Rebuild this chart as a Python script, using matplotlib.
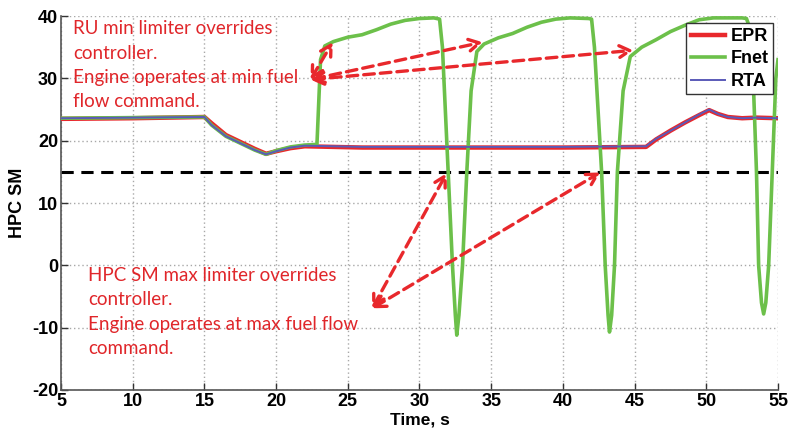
import matplotlib
matplotlib.use('Agg')
import matplotlib.pyplot as plt
import numpy as np

plt.rcParams['axes.unicode_minus'] = False

# baseline trace shared by EPR and RTA (time s, HPC SM)
base_t = [5, 10, 15, 15.5, 16.5, 17.5, 18.5, 19.3, 20, 21, 22, 26, 30, 35, 40, 45.8,
          46.5, 47.5, 48.5, 49.5, 50.2, 50.8, 51.5, 52.5, 53.5, 55]
base_v = [23.6, 23.7, 23.8, 22.5, 20.7, 19.6, 18.5, 17.8, 18.3, 18.9, 19.2, 19.0, 19.0, 19.0, 19.0, 19.1,
          20.3, 21.6, 22.9, 24.2, 25.0, 24.3, 23.8, 23.6, 23.7, 23.6]
epr_v = [23.5, 23.6, 23.8, 22.8, 20.9, 19.8, 18.7, 17.9, 18.3, 18.8, 19.1, 18.9, 18.9, 18.9, 18.9, 19.0,
         20.2, 21.6, 22.9, 24.1, 24.9, 24.3, 23.8, 23.6, 23.7, 23.6]

fnet_t = [5, 10, 15, 15.5, 16.5, 17.5, 18.5, 19.3, 20, 21, 22, 22.85,
          23.1, 23.4, 24, 25, 26, 27, 28, 29, 30, 31, 31.4,
          31.6, 32.0, 32.3, 32.5, 32.6, 32.75, 33.0, 33.3, 33.6, 34.0,
          34.5, 35.5, 36.5, 37.5, 38.5, 39.5, 40.5, 41.8, 42.0,
          42.2, 42.7, 42.95, 43.15, 43.25, 43.4, 43.6, 43.8, 44.2, 44.7,
          45.5, 46.5, 47.5, 48.5, 49.5, 50.5, 52.5, 52.8,
          53.05, 53.3, 53.5, 53.65, 53.85, 54.0, 54.15, 54.35, 54.6, 54.85, 55]
fnet_v = [23.6, 23.7, 23.8, 22.5, 20.7, 19.6, 18.5, 17.8, 18.4, 19.0, 19.3, 19.4,
          33.0, 35.2, 35.9, 36.6, 37.0, 37.8, 38.7, 39.3, 39.6, 39.7, 39.5,
          35.0, 15.0, 0.0, -8.0, -11.2, -8.0, 0.0, 15.0, 28.0, 34.3,
          35.5, 36.5, 37.2, 38.2, 39.0, 39.5, 39.7, 39.6, 39.5,
          35.0, 15.0, 0.0, -8.0, -10.7, -8.0, 0.0, 15.0, 28.0, 33.5,
          35.0, 36.2, 37.5, 38.5, 39.4, 39.7, 39.7, 39.6,
          38.0, 28.0, 15.0, 0.0, -6.0, -7.8, -6.0, 0.0, 15.0, 30.0, 33.0]

limit_sm = 15
x_ticks = [5, 10, 15, 20, 25, 30, 35, 40, 45, 50, 55]
y_ticks = [-20, -10, 0, 10, 20, 30, 40]

text_top = "RU min limiter overrides\ncontroller.\nEngine operates at min fuel\nflow command."
text_bot = "HPC SM max limiter overrides\ncontroller.\nEngine operates at max fuel flow\ncommand."

# arrows: tail point and the points they aim at
top_tail = (22.4, 29.8)
top_heads = [(23.95, 35.8), (34.4, 35.8), (44.9, 34.5)]
bot_tail = (26.7, -6.9)
bot_heads = [(31.9, 14.8), (42.6, 14.9)]

red = '#e8282c'
green = '#6cc04a'
blue = '#5a5ab8'
note_red = '#e0262a'
tick_font = 'Liberation Sans'

fig = plt.figure(figsize=(7.9, 4.34), dpi=100)
ax = fig.add_axes([0.0772, 0.1014, 0.9076, 0.8617])

ax.plot(base_t, epr_v, color=red, lw=3.2, label='EPR', zorder=3)
ax.plot(fnet_t, fnet_v, color=green, lw=2.6, label='Fnet', zorder=4)
ax.plot(base_t, base_v, color=blue, lw=1.4, label='RTA', zorder=5)
ax.axhline(limit_sm, color='black', lw=2.2, ls=(0, (4, 2.5)), zorder=2)

astyle = dict(arrowstyle='<->,head_length=0.75,head_width=0.42',
              color=red, lw=2.4, ls=(0, (3.2, 1.8)), shrinkA=0, shrinkB=0)
for head in top_heads:
    ax.annotate('', xy=head, xytext=top_tail, arrowprops=astyle, zorder=6)
for head in bot_heads:
    ax.annotate('', xy=head, xytext=bot_tail, arrowprops=astyle, zorder=6)

ax.text(5.85, 39.3, text_top, color=note_red, fontsize=13.5, family='Lato',
        va='top', ha='left', linespacing=1.52, zorder=7)
ax.text(6.9, -0.3, text_bot, color=note_red, fontsize=13.5, family='Lato',
        va='top', ha='left', linespacing=1.52, zorder=7)

ax.set_xlim(5, 55)
ax.set_ylim(-20, 40)
ax.set_xticks(x_ticks)
ax.set_yticks(y_ticks)
ax.grid(True, color='#a8a8a8', ls=(0, (1, 2)), lw=1.0)
ax.tick_params(direction='in', length=5, width=1, colors='#333333', labelcolor='black', pad=2)
for lab in ax.get_xticklabels() + ax.get_yticklabels():
    lab.set_fontweight('bold')
    lab.set_fontsize(13)
    lab.set_family(tick_font)
for s in ['top', 'right']:
    ax.spines[s].set_visible(False)
for s in ['left', 'bottom']:
    ax.spines[s].set_color('#555555')
    ax.spines[s].set_linewidth(1.2)

ax.set_xlabel('Time, s', fontsize=12.5, fontweight='bold', family=tick_font, labelpad=2)
ax.set_ylabel('HPC SM', fontsize=13, fontweight='bold', family=tick_font, labelpad=4)

leg = ax.legend(loc='upper right', bbox_to_anchor=(0.993, 0.98), fancybox=False,
                framealpha=1, edgecolor='#333333', handlelength=1.9, borderpad=0.25,
                labelspacing=0.3, handletextpad=0.3, borderaxespad=0.0,
                prop={'family': tick_font, 'weight': 'bold', 'size': 13})
leg.set_zorder(8)

fig.savefig('out.png', dpi=100)
